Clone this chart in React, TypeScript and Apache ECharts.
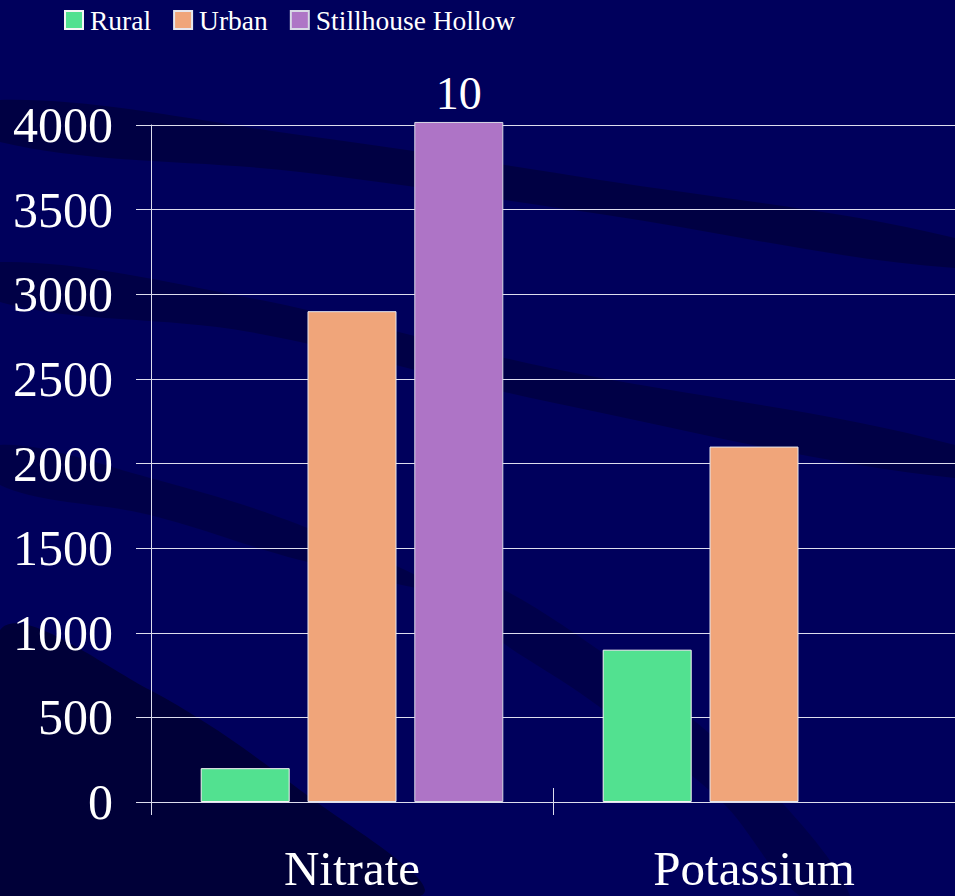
import React, { useEffect, useRef } from "react";
import * as echarts from "echarts";

const categories = ["Nitrate", "Potassium"];
const seriesNames = ["Rural", "Urban", "Stillhouse Hollow"];
const rural = [200, 900];
const urban = [2900, 2100];
const stillhouse: (number | null)[] = [4018, null];
const stillhouseLabels = ["10", ""];
const yTicks = { min: 0, max: 4000, interval: 500 };
const colors = ["#52E190", "#F0A57A", "#AE74C6"];

const FONT = "'Liberation Serif', 'Times New Roman', serif";

export default function App() {
  const ref = useRef<HTMLDivElement>(null);
  useEffect(() => {
    if (!ref.current) return;
    const chart = echarts.init(ref.current, null, { renderer: "svg" });
    const band = (points: number[][], fill: string, opacity = 1) => ({
      type: "polygon",
      z: -10,
      silent: true,
      shape: { points, smooth: 0.35 },
      style: { fill, opacity },
    });
    chart.setOption({
      animation: false,
      backgroundColor: "#00005C",
      graphic: [
        band(
          [
            [0, 100], [300, 135], [600, 180], [955, 238],
            [955, 268], [600, 214], [300, 172], [0, 142],
          ],
          "#000030",
          0.55
        ),
        band(
          [
            [0, 262], [250, 298], [550, 368], [955, 445],
            [955, 478], [550, 402], [250, 332], [0, 302],
          ],
          "#000030",
          0.5
        ),
        band(
          [
            [0, 445], [150, 478], [300, 525], [440, 590],
            [300, 560], [150, 515], [0, 485],
          ],
          "#000030",
          0.45
        ),
        band(
          [
            [470, 575], [620, 665], [760, 780], [850, 896],
            [800, 896], [720, 800], [590, 700], [470, 615],
          ],
          "#000030",
          0.4
        ),
        band(
          [
            [0, 630], [150, 690], [300, 790], [420, 896], [0, 896],
          ],
          "#000020",
          0.6
        ),
      ],
      legend: {
        left: 59,
        top: 1,
        itemWidth: 18,
        itemHeight: 18,
        itemGap: 22,
        icon: "rect",
        textStyle: {
          color: "#FFFFFF",
          fontFamily: FONT,
          fontSize: 27.5,
          padding: [0, 0, 0, 2],
        },
        data: seriesNames,
      },
      grid: { left: 151, right: -7, top: 125, bottom: 94, containLabel: false },
      xAxis: [
        {
          type: "category",
          data: categories,
          position: "bottom",
          axisLine: { show: false },
          axisTick: { show: true, length: 13, lineStyle: { color: "#DDDDEE" } },
          axisLabel: {
            color: "#FFFFFF",
            fontFamily: FONT,
            fontSize: 49,
            lineHeight: 44,
            margin: 44,
          },
        },
        {
          type: "category",
          data: categories,
          position: "bottom",
          axisLine: { show: false },
          axisTick: { show: true, inside: true, length: 14, lineStyle: { color: "#DDDDEE" } },
          axisLabel: { show: false },
        },
      ],
      yAxis: {
        type: "value",
        min: yTicks.min,
        max: yTicks.max,
        interval: yTicks.interval,
        axisLine: { show: true, lineStyle: { color: "#DDDDEE" } },
        axisTick: { show: true, length: 15, lineStyle: { color: "#DDDDEE" } },
        splitLine: { show: true, lineStyle: { color: "#DDDDEE", width: 1 } },
        axisLabel: {
          color: "#FFFFFF",
          fontFamily: FONT,
          fontSize: 50,
          margin: 38,
          formatter: (v: number) => String(v),
        },
      },
      series: [
        {
          name: seriesNames[0],
          type: "bar",
          data: rural,
          barWidth: 89,
          barGap: "20%",
          itemStyle: { color: colors[0], borderColor: "#F4F4F4", borderWidth: 1 },
        },
        {
          name: seriesNames[1],
          type: "bar",
          data: urban,
          barWidth: 89,
          barGap: "20%",
          itemStyle: { color: colors[1], borderColor: "#E6E6EE", borderWidth: 1 },
        },
        {
          name: seriesNames[2],
          type: "bar",
          data: stillhouse,
          barWidth: 89,
          barGap: "20%",
          clip: false,
          itemStyle: { color: colors[2], borderColor: "#D8D8E6", borderWidth: 1 },
          label: {
            show: true,
            position: "top",
            distance: 5,
            color: "#FFFFFF",
            fontFamily: FONT,
            fontSize: 46,
            formatter: (p: any) => stillhouseLabels[p.dataIndex] || "",
          },
        },
      ],
    });
    return () => chart.dispose();
  }, []);
  return <div ref={ref} style={{ width: 955, height: 896, position: "absolute", left: 0, top: 0 }} />;
}
